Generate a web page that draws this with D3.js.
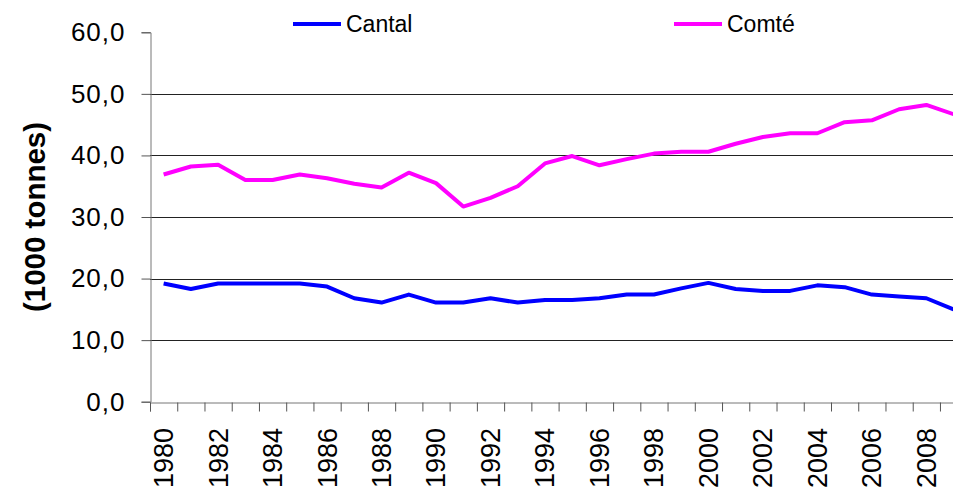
<!DOCTYPE html>
<html>
<head>
<meta charset="utf-8">
<script src="https://cdn.jsdelivr.net/npm/d3@7"></script>
<style>
  body { margin: 0; background: #fff; overflow: hidden; }
  svg { display: block; font-family: Arial, "Liberation Sans", sans-serif; }
</style>
</head>
<body>
<script>
// data
var years = d3.range(1980, 2010);
var cantal = [19.2, 18.3, 19.2, 19.2, 19.2, 19.2, 18.7, 16.8, 16.1, 17.4,
              16.1, 16.1, 16.8, 16.1, 16.5, 16.5, 16.8, 17.4, 17.4, 18.4,
              19.3, 18.3, 18.0, 18.0, 18.9, 18.6, 17.4, 17.1, 16.8, 15.0];
var comte = [36.9, 38.2, 38.5, 36.0, 36.0, 36.9, 36.3, 35.4, 34.8, 37.2,
             35.5, 31.7, 33.1, 35.0, 38.7, 39.9, 38.4, 39.4, 40.3, 40.6,
             40.6, 41.9, 43.0, 43.6, 43.6, 45.4, 45.7, 47.5, 48.2, 46.7];
var yTicks = [0, 10, 20, 30, 40, 50, 60];
var labelYears = d3.range(1980, 2010, 2);

var series = [
    {name: "Cantal", values: cantal, color: "#0000ff"},
    {name: "Comté", values: comte, color: "#ff00ff"}
];

var w = 953, h = 492;
var left = 150, bandW = 27.24;

var svg = d3.select("body").append("svg")
    .attr("width", w)
    .attr("height", h);

var x = d3.scaleLinear()
    .domain([1979.5, 2009.5])
    .range([left, left + 30 * bandW]);

var y = d3.scaleLinear()
    .domain([0, 60])
    .range([401.7, 32.3]);

// gridlines
svg.append("g")
    .selectAll("line")
    .data(yTicks.filter(d => d > 0 && d < 60))
    .enter().append("line")
    .attr("x1", left)
    .attr("x2", w)
    .attr("y1", d => Math.round(y(d)) + 0.5)
    .attr("y2", d => Math.round(y(d)) + 0.5)
    .style("stroke", "#222")
    .style("stroke-width", 1);

// y axis
var yAxis = svg.append("g")
    .attr("transform", "translate(" + (left + 0.5) + ",0)")
    .call(d3.axisLeft(y).tickValues(yTicks).tickSize(9).tickPadding(16)
        .tickFormat(d => d3.format(".1f")(d).replace(".", ",")));
yAxis.select(".domain").style("stroke", "#777");
yAxis.selectAll(".tick line").style("stroke", "#555");
yAxis.selectAll("text")
    .style("font-size", "26px")
    .style("letter-spacing", "1px")
    .style("fill", "#000");

// x axis: tick marks at band edges
var xAxis = svg.append("g")
    .attr("transform", "translate(0," + (Math.round(y(0)) + 0.5) + ")")
    .call(d3.axisBottom(x).tickValues(d3.range(1979.5, 2010, 1)).tickSize(9).tickFormat(""));
xAxis.select(".domain").style("stroke", "#777");
xAxis.selectAll(".tick line").style("stroke", "#555");

// x labels every second year
svg.append("g")
    .selectAll("text")
    .data(labelYears)
    .enter().append("text")
    .attr("transform", d => "translate(" + x(d) + ",428) rotate(-90)")
    .attr("text-anchor", "end")
    .attr("dy", "0.35em")
    .style("font-size", "27px")
    .text(d => d);

// y axis title
svg.append("text")
    .attr("transform", "translate(35,217) rotate(-90)")
    .attr("text-anchor", "middle")
    .attr("dy", "0.35em")
    .style("font-size", "29.5px")
    .style("font-weight", "bold")
    .text("(1000 tonnes)");

// lines
var line = d3.line()
    .x((d, i) => x(years[i]))
    .y(d => y(d));

svg.selectAll(".series")
    .data(series)
    .enter().append("path")
    .attr("class", "series")
    .attr("d", d => line(d.values))
    .style("fill", "none")
    .style("stroke", d => d.color)
    .style("stroke-width", 4)
    .style("stroke-linejoin", "round");

// legend
var legendPos = [293, 674];
var legend = svg.selectAll(".legend")
    .data(series)
    .enter().append("g")
    .attr("class", "legend")
    .attr("transform", (d, i) => "translate(" + legendPos[i] + ",24)");
legend.append("line")
    .attr("x1", 0).attr("x2", 48)
    .style("stroke", d => d.color)
    .style("stroke-width", 4);
legend.append("text")
    .attr("x", 53)
    .attr("dy", "0.35em")
    .style("font-size", "23px")
    .text(d => d.name);
</script>
</body>
</html>
